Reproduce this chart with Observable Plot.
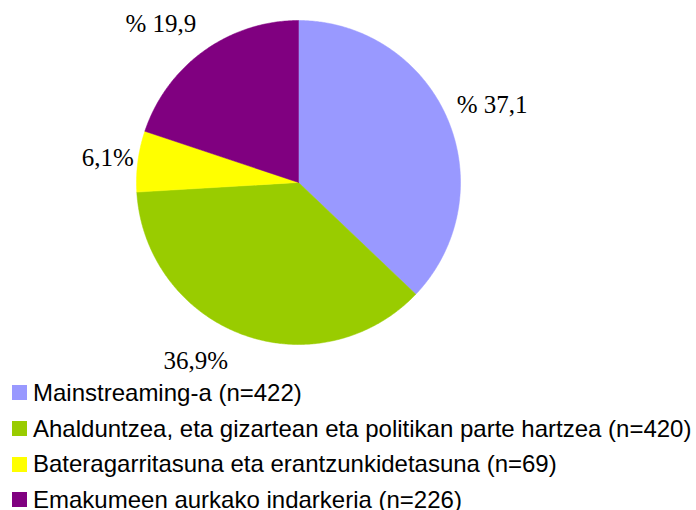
<!DOCTYPE html>
<html>
<head>
<meta charset="utf-8">
<script src="https://cdn.jsdelivr.net/npm/d3@7"></script>
<script src="https://cdn.jsdelivr.net/npm/@observablehq/plot@0.6"></script>
<style>
  body { margin: 0; background: #fff; width: 696px; height: 510px; overflow: hidden; }
  #chart svg { display: block; }
  .legend { font-family: "Liberation Sans", Arial, sans-serif; font-size: 24px; color: #000; }
  .row { height: 35.7px; display: flex; align-items: center; white-space: nowrap; }
  .sw { width: 15px; height: 15px; margin-left: 12px; margin-right: 6px; flex: none; }
</style>
</head>
<body>
<div id="chart"></div>
<div class="legend" id="legend"></div>
<script>
const categories = [
  "Mainstreaming-a (n=422)",
  "Ahalduntzea, eta gizartean eta politikan parte hartzea (n=420)",
  "Bateragarritasuna eta erantzunkidetasuna (n=69)",
  "Emakumeen aurkako indarkeria (n=226)"
];
const counts = [422, 420, 69, 226];
const labels = ["% 37,1", "36,9%", "6,1%", "% 19,9"];
const colors = ["#9999FF", "#99CC00", "#FFFF00", "#800080"];

// Slice geometry from the counts (clockwise from 12 o'clock)
const total = d3.sum(counts);
let cum = 0;
const slices = counts.map((v, i) => {
  const a0 = cum / total * 2 * Math.PI;
  cum += v;
  const a1 = cum / total * 2 * Math.PI;
  return {cat: categories[i], label: labels[i], a0, a1, mid: (a0 + a1) / 2};
});
const pts = [];
for (const s of slices) {
  pts.push({cat: s.cat, x: 0, y: 0});
  const n = Math.max(2, Math.ceil((s.a1 - s.a0) / (Math.PI / 360)));
  for (let k = 0; k <= n; k++) {
    const a = s.a0 + (s.a1 - s.a0) * k / n;
    pts.push({cat: s.cat, x: Math.sin(a), y: Math.cos(a)});
  }
  pts.push({cat: s.cat, x: 0, y: 0});
}
const lr = 1.2;
const labelPts = slices.map(s => ({label: s.label, x: lr * Math.sin(s.mid), y: lr * Math.cos(s.mid)}));
const offsets = [[15, -1], [-36, -4], [2, 1], [-24, -1]];

const textMarks = labelPts.map((d, i) => Plot.text([d], {
  x: "x", y: "y", text: "label",
  dx: offsets[i][0], dy: offsets[i][1],
  fontFamily: "'Liberation Serif', 'Times New Roman', serif",
  fontSize: 25, fill: "#000", textAnchor: "middle", lineAnchor: "middle"
}));

const chart = Plot.plot({
  width: 696,
  height: 375,
  margin: 0,
  x: {domain: [-1, 1], range: [136, 460], axis: null},
  y: {domain: [-1, 1], range: [344, 20], axis: null},
  color: {domain: categories, range: colors},
  marks: [
    Plot.line(pts, {x: "x", y: "y", z: "cat", fill: "cat", stroke: "cat", strokeWidth: 0.5, curve: "linear"}),
    ...textMarks
  ]
});
document.getElementById("chart").appendChild(chart);

const legend = document.getElementById("legend");
categories.forEach((c, i) => {
  const row = document.createElement("div");
  row.className = "row";
  const sw = document.createElement("span");
  sw.className = "sw";
  sw.style.background = colors[i];
  const t = document.createElement("span");
  t.textContent = c;
  row.appendChild(sw);
  row.appendChild(t);
  legend.appendChild(row);
});
</script>
</body>
</html>
